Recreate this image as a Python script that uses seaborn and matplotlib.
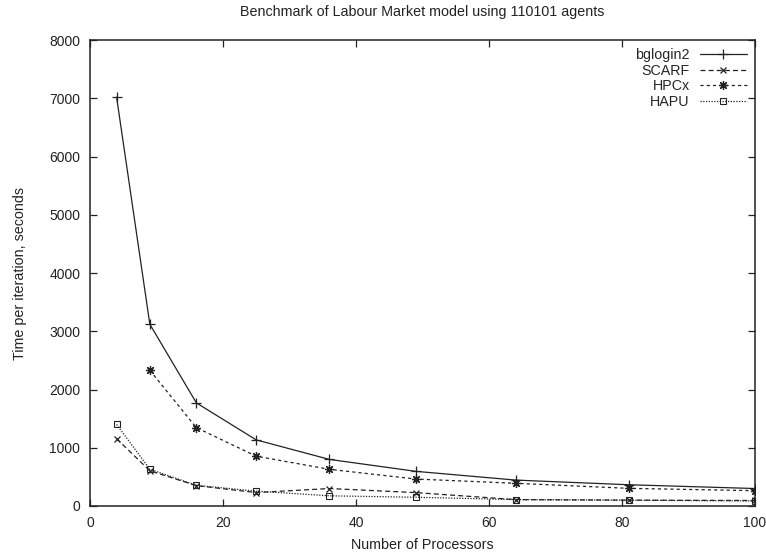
import matplotlib
matplotlib.use("Agg")
import matplotlib.pyplot as plt
import seaborn as sns

processors = [4, 9, 16, 25, 36, 49, 64, 81, 100]
bglogin2 = [7020, 3120, 1770, 1135, 800, 595, 445, 365, 300]
scarf = [1155, 605, 350, 230, 300, 230, 110, 100, 95]
hpcx_procs = [9, 16, 25, 36, 49, 64, 81, 100]
hpcx = [2330, 1345, 855, 630, 463, 390, 303, 263]
hapu = [1400, 630, 355, 255, 175, 150, 110, 100, 85]

series_names = ["bglogin2", "SCARF", "HPCx", "HAPU"]

sns.set_style("ticks")
plt.rcParams["font.family"] = ["Liberation Sans", "DejaVu Sans"]

fig = plt.figure(figsize=(7.66, 5.53), dpi=100)
ax = fig.add_axes([0.1175, 0.085, 0.868, 0.8425])

col = "#222222"
lw = 0.9
common = dict(ax=ax, color=col, linewidth=lw, markeredgecolor=col)
sns.lineplot(x=processors, y=bglogin2, marker="+", markersize=6.5,
             markeredgewidth=0.9, linestyle="-", label=series_names[0], **common)
sns.lineplot(x=processors, y=scarf, marker="x", markersize=5,
             markeredgewidth=0.9, linestyle=(0, (4, 2.5)),
             label=series_names[1], **common)
sns.lineplot(x=hpcx_procs, y=hpcx, marker=(8, 2, 0), markersize=6.5,
             markeredgewidth=0.9, linestyle=(0, (2.5, 2.5)),
             label=series_names[2], **common)
sns.lineplot(x=processors, y=hapu, marker="s", markersize=5,
             markeredgewidth=0.8, markerfacecolor="none",
             linestyle=(0, (1, 1.2)), label=series_names[3], **common)

ax.set_xlim(0, 100)
ax.set_ylim(0, 8000)
ax.set_xticks([0, 20, 40, 60, 80, 100])
ax.set_yticks(range(0, 8001, 1000))
ax.tick_params(direction="in", length=5, width=0.9, top=True, right=True,
               labelsize=10, pad=7, colors="#222222")
for s in ax.spines.values():
    s.set_visible(True)
    s.set_linewidth(1.1)
    s.set_color("#222222")

ax.set_title("Benchmark of Labour Market model using 110101 agents",
             fontsize=10.3, pad=17, color="#222222")
ax.set_xlabel("Number of Processors", fontsize=10.3, labelpad=6, color="#222222")
ax.set_ylabel("Time per iteration, seconds", fontsize=10.3, labelpad=16,
              color="#222222")

ax.legend(loc="upper right", frameon=False, markerfirst=False,
          fontsize=10.3, handlelength=3.3, handletextpad=0.7,
          labelspacing=0.12, borderaxespad=0.15)

fig.savefig("out.png", dpi=100)
